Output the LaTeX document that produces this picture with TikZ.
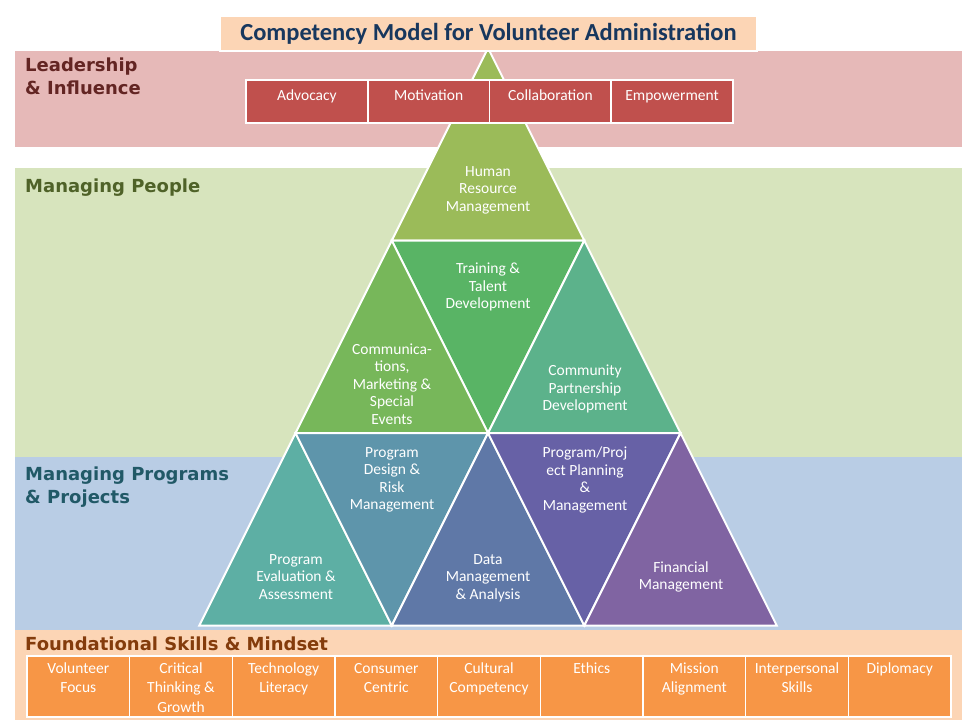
\documentclass[tikz,border=0pt]{standalone}
\usepackage{fontspec}
\setmainfont{Carlito}
\newfontfamily\bandfont{DejaVu Sans}
\usetikzlibrary{shapes}

\definecolor{peach}{HTML}{FCD5B5}
\definecolor{titlenavy}{HTML}{17375E}
\definecolor{leadband}{HTML}{E6B9B8}
\definecolor{leadred}{HTML}{C0504D}
\definecolor{leadtext}{HTML}{632523}
\definecolor{peopleband}{HTML}{D7E4BD}
\definecolor{peopletext}{HTML}{4F6228}
\definecolor{progband}{HTML}{B9CDE5}
\definecolor{progtext}{HTML}{215967}
\definecolor{skillorange}{HTML}{F79646}
\definecolor{foundtext}{HTML}{843C0C}
\definecolor{hrgreen}{HTML}{9BBB59}
\definecolor{traingreen}{HTML}{59B465}
\definecolor{commgreen}{HTML}{77B75A}
\definecolor{partnergreen}{HTML}{5CB28B}
\definecolor{evalteal}{HTML}{5DAFA4}
\definecolor{designblue}{HTML}{5E95AB}
\definecolor{datablue}{HTML}{5F78A7}
\definecolor{planpurple}{HTML}{6761A6}
\definecolor{finpurple}{HTML}{8064A2}

% lines hung from the first baseline
\newcommand\boxlines[1]{\begin{tabular}[t]{@{}c@{}}#1\end{tabular}}

\tikzset{
  tri/.style={draw=white,line width=2pt,line join=miter},
  tritext/.style={shape=rectangle,align=center,text=white,inner sep=0pt,font=\fontsize{15.5}{17.5}\selectfont},
  bandlabel/.style={anchor=base west,align=left,inner sep=0pt,font=\bandfont\bfseries\fontsize{18}{22.5}\selectfont},
  leadbox/.style={shape=rectangle,draw=white,line width=1.6pt,fill=leadred,text=white,inner sep=0pt,
    minimum width=121.75pt,text height=20pt,text depth=23pt,font=\fontsize{15.5}{17.5}\selectfont},
  skillbox/.style={shape=rectangle,draw=white,line width=1.6pt,fill=skillorange,text=white,inner sep=0pt,
    minimum width=102.67pt,text height=17pt,text depth=44pt,font=\fontsize{15.5}{19.5}\selectfont},
}

\begin{document}
\begin{tikzpicture}[x=1pt,y=-1pt]
\useasboundingbox (0,0) rectangle (974,720);

% bands
\fill[leadband] (15,51) rectangle (962,147);
\fill[peopleband] (15,168) rectangle (962,457);
\fill[progband] (15,457) rectangle (962,630);
\fill[peach] (15,630) rectangle (962,720);

\node[bandlabel,text=leadtext] (lead) at (25,94) {Leadership\\\& Influence};
\node[bandlabel,text=peopletext] (people) at (25,192) {Managing People};
\node[bandlabel,text=progtext] (prog) at (25,503) {Managing Programs\\\& Projects};
\node[bandlabel,text=foundtext] (found) at (25,650) {Foundational Skills \& Mindset};

% pyramid
\filldraw[tri,fill=hrgreen] (488,48) -- (391.75,240.5) -- (584.25,240.5) -- cycle;
\filldraw[tri,fill=traingreen] (391.75,240.5) -- (584.25,240.5) -- (488,433) -- cycle;
\filldraw[tri,fill=commgreen] (391.75,240.5) -- (295.5,433) -- (488,433) -- cycle;
\filldraw[tri,fill=partnergreen] (584.25,240.5) -- (488,433) -- (680.5,433) -- cycle;
\filldraw[tri,fill=evalteal] (295.5,433) -- (199.25,625.5) -- (391.75,625.5) -- cycle;
\filldraw[tri,fill=designblue] (295.5,433) -- (488,433) -- (391.75,625.5) -- cycle;
\filldraw[tri,fill=datablue] (488,433) -- (391.75,625.5) -- (584.25,625.5) -- cycle;
\filldraw[tri,fill=planpurple] (488,433) -- (680.5,433) -- (584.25,625.5) -- cycle;
\filldraw[tri,fill=finpurple] (680.5,433) -- (584.25,625.5) -- (776.75,625.5) -- cycle;

\node[tritext] (hrm) at (488,190) {Human\\Resource\\Management};
\node[tritext] (ttd) at (488,287) {Training \&\\Talent\\Development};
\node[tritext] (cmse) at (392,384) {Communica-\\tions,\\Marketing \&\\Special\\Events};
\node[tritext] (cpd) at (585,389) {Community\\Partnership\\Development};
\node[tritext] (pdrm) at (392,480) {Program\\Design \&\\Risk\\Management};
\node[tritext] (ppm) at (585,480) {Program/Proj\\ect Planning\\\&\\Management};
\node[tritext] (pea) at (296,577) {Program\\Evaluation \&\\Assessment};
\node[tritext] (dma) at (488,578) {Data\\Management\\\& Analysis};
\node[tritext] (fm) at (681,577) {Financial\\Management};

% leadership boxes
\node[leadbox] (adv) at (306.9,101.5) {Advocacy};
\node[leadbox] (mot) at (428.6,101.5) {Motivation};
\node[leadbox] (col) at (550.4,101.5) {Collaboration};
\node[leadbox] (emp) at (672.1,101.5) {Empowerment};

% foundational skills
\node[skillbox] (vf) at (78.3,686.5) {\boxlines{Volunteer\\Focus}};
\node[skillbox] (ctg) at (181.0,686.5) {\boxlines{Critical\\Thinking \&\\Growth}};
\node[skillbox] (tl) at (283.7,686.5) {\boxlines{Technology\\Literacy}};
\node[skillbox] (cc) at (386.3,686.5) {\boxlines{Consumer\\Centric}};
\node[skillbox] (ccomp) at (489.0,686.5) {\boxlines{Cultural\\Competency}};
\node[skillbox] (eth) at (591.7,686.5) {\boxlines{Ethics}};
\node[skillbox] (ma) at (694.3,686.5) {\boxlines{Mission\\Alignment}};
\node[skillbox] (is) at (797.0,686.5) {\boxlines{Interpersonal\\Skills}};
\node[skillbox] (dip) at (899.7,686.5) {\boxlines{Diplomacy}};

% title
\node[shape=rectangle,draw=white,line width=1.2pt,fill=peach,text=titlenavy,minimum width=537pt,minimum height=35pt,
  font=\bfseries\fontsize{24.5}{27}\selectfont] (title) at (488.5,33.5) {Competency Model for Volunteer Administration};
\end{tikzpicture}
\end{document}
